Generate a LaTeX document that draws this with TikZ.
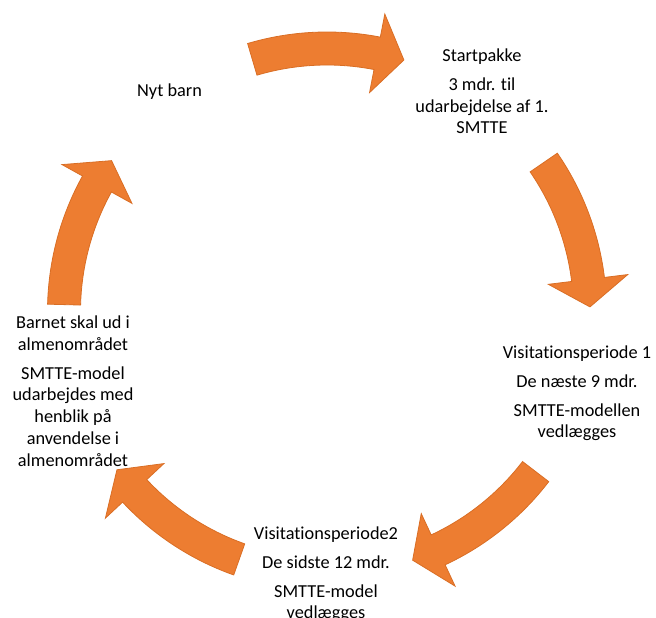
\documentclass[tikz,border=0pt]{standalone}
\usepackage{fontspec}
\setmainfont{Carlito}[Ligatures=NoCommon]
\usetikzlibrary{calc}
\definecolor{arrowfill}{HTML}{ED7D31}
\definecolor{arrowline}{HTML}{D96E25}
\newcommand{\cycarrow}[1]{%
  \pgfmathsetmacro{\cyaT}{#1+16.5}%
  \pgfmathsetmacro{\cyaB}{#1-11}%
  \pgfmathsetmacro{\cyaP}{#1-17}%
  \path[blockarrow] ($(C)+(\cyaT:279.5)$) arc[start angle=\cyaT, end angle=\cyaB, radius=279.5]
    -- ($(C)+(\cyaB:303)$) -- ($(C)+(\cyaP:263)$) -- ($(C)+(\cyaB:223)$)
    -- ($(C)+(\cyaB:246.5)$) arc[start angle=\cyaB, end angle=\cyaT, radius=246.5] -- cycle;%
}
\begin{document}
\begin{tikzpicture}[x=1pt,y=1pt,
  blockarrow/.style={fill=arrowfill, draw=arrowline, line width=0.8pt, line join=miter},
  stagetext/.style={anchor=north, inner sep=0pt, align=center, font=\fontsize{18.3}{21.8}\selectfont, text=black}]
\useasboundingbox (0,0) rectangle (656,618);
\coordinate (C) at (327,306.5);
% arrows
\cycarrow{90}
\cycarrow{18}
\cycarrow{-54}
\cycarrow{-126}
\cycarrow{162}
% texts
\node[stagetext] (nyt) at (169.5,537) {\strut Nyt barn};
\node[stagetext] (start) at (482,572) {\strut Startpakke\\[7pt]3 mdr. til\\udarbejdelse af 1.\\SMTTE};
\node[stagetext] (v1) at (577,275) {\strut Visitationsperiode 1\\[7pt]De næste 9 mdr.\\[7pt]SMTTE-modellen\\vedlægges};
\node[stagetext] (v2) at (326,94) {\strut Visitationsperiode2\\[7pt]De sidste 12 mdr.\\[7pt]SMTTE-model\\vedlægges};
\node[stagetext] (barnet) at (73,305) {\strut Barnet skal ud i\\almenområdet\\[7pt]SMTTE-model\\udarbejdes med\\henblik på\\anvendelse i\\almenområdet};
\end{tikzpicture}
\end{document}
